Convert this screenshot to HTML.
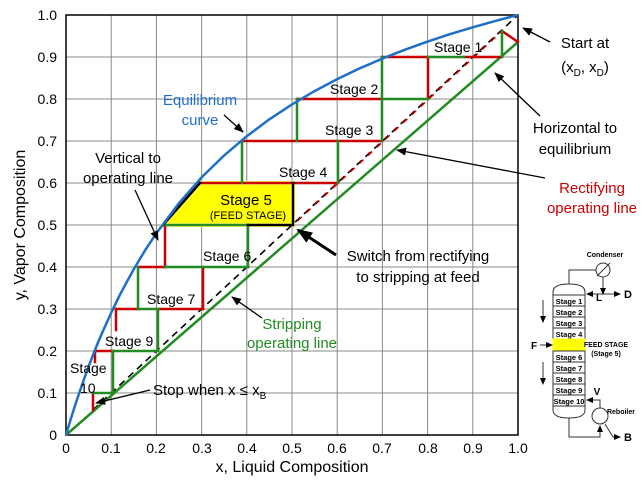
<!DOCTYPE html>
<html><head><meta charset="utf-8"><style>
body{margin:0;background:#fff}
svg{display:block;font-family:"Liberation Sans",Arial,sans-serif}
</style></head><body>
<svg width="643" height="480" viewBox="0 0 643 480">
<defs>
<marker id="ah" markerWidth="10" markerHeight="8" refX="9" refY="4" orient="auto" markerUnits="userSpaceOnUse"><path d="M0,0 L10,4 L0,8 Z" fill="#000"/></marker>
<marker id="ah2" markerWidth="16" markerHeight="12" refX="14" refY="6" orient="auto" markerUnits="userSpaceOnUse"><path d="M0,0 L16,6 L0,12 Z" fill="#000"/></marker>
<marker id="sm" markerWidth="7" markerHeight="6" refX="6" refY="3" orient="auto" markerUnits="userSpaceOnUse"><path d="M0,0 L7,3 L0,6 Z" fill="#000"/></marker>
</defs>
<g stroke="#888" stroke-width="1">
<line x1="111.2" y1="15" x2="111.2" y2="435"/><line x1="156.4" y1="15" x2="156.4" y2="435"/><line x1="201.6" y1="15" x2="201.6" y2="435"/><line x1="246.8" y1="15" x2="246.8" y2="435"/><line x1="292" y1="15" x2="292" y2="435"/><line x1="337.2" y1="15" x2="337.2" y2="435"/><line x1="382.4" y1="15" x2="382.4" y2="435"/><line x1="427.6" y1="15" x2="427.6" y2="435"/><line x1="472.8" y1="15" x2="472.8" y2="435"/>
<line x1="66" y1="393" x2="518" y2="393"/><line x1="66" y1="351" x2="518" y2="351"/><line x1="66" y1="309" x2="518" y2="309"/><line x1="66" y1="267" x2="518" y2="267"/><line x1="66" y1="225" x2="518" y2="225"/><line x1="66" y1="183" x2="518" y2="183"/><line x1="66" y1="141" x2="518" y2="141"/><line x1="66" y1="99" x2="518" y2="99"/><line x1="66" y1="57" x2="518" y2="57"/>
</g>
<rect x="66" y="15" width="452" height="420" fill="none" stroke="#000" stroke-width="1.5"/>
<g font-size="14" fill="#000" text-anchor="middle">
<text x="66" y="453">0</text><text x="111" y="453">0.1</text><text x="156" y="453">0.2</text><text x="202" y="453">0.3</text><text x="247" y="453">0.4</text><text x="292" y="453">0.5</text><text x="337" y="453">0.6</text><text x="382" y="453">0.7</text><text x="428" y="453">0.8</text><text x="473" y="453">0.9</text><text x="518" y="453">1.0</text>
</g>
<g font-size="14" fill="#000" text-anchor="end">
<text x="57" y="440">0</text><text x="57" y="398">0.1</text><text x="57" y="356">0.2</text><text x="57" y="314">0.3</text><text x="57" y="272">0.4</text><text x="57" y="230">0.5</text><text x="57" y="188">0.6</text><text x="57" y="146">0.7</text><text x="57" y="104">0.8</text><text x="57" y="62">0.9</text><text x="57" y="20">1.0</text>
</g>
<text x="292" y="472" font-size="16" text-anchor="middle">x, Liquid Composition</text>
<text transform="translate(25,225) rotate(-90)" font-size="16" text-anchor="middle">y, Vapor Composition</text>
<polygon points="163,225 200,183 293,183 293,225" fill="#ffff00" stroke="#ffff66" stroke-width="4"/>
<line x1="93" y1="410" x2="518" y2="15" stroke="#000" stroke-width="1.6" stroke-dasharray="7,5"/>
<line x1="293" y1="225" x2="502" y2="31" stroke="#c00" stroke-width="1.6" stroke-dasharray="6,6" stroke-dashoffset="6"/>
<line x1="66" y1="435" x2="518" y2="42" stroke="#228b22" stroke-width="2.5"/>
<g fill="none" stroke-width="2.5" stroke-linecap="square">
<g stroke="#c00">
<line x1="502" y1="31" x2="518" y2="42"/>
<line x1="382" y1="57" x2="428" y2="57"/><line x1="464" y1="57" x2="502" y2="57"/>
<line x1="428" y1="57" x2="428" y2="99"/>
<line x1="297" y1="99" x2="382" y2="99"/>
<line x1="242" y1="141" x2="382" y2="141"/>
<line x1="200" y1="183" x2="338" y2="183"/>
<line x1="165" y1="225" x2="165" y2="267"/>
<line x1="138" y1="267" x2="165" y2="267"/>
<line x1="203" y1="267" x2="203" y2="309"/>
<line x1="116" y1="309" x2="138" y2="309"/><line x1="158" y1="309" x2="203" y2="309"/>
<line x1="116" y1="309" x2="116" y2="330"/>
<line x1="95" y1="351" x2="113" y2="351"/>
<line x1="95" y1="351" x2="95" y2="362"/>
<line x1="93" y1="393" x2="93" y2="410"/>
</g>
<g stroke="#228b22">
<line x1="502" y1="31" x2="502" y2="57"/>
<line x1="428" y1="57" x2="464" y2="57"/>
<line x1="382" y1="57" x2="382" y2="141"/>
<line x1="382" y1="99" x2="428" y2="99"/>
<line x1="297" y1="99" x2="297" y2="141"/>
<line x1="338" y1="141" x2="338" y2="183"/>
<line x1="242" y1="141" x2="242" y2="183"/>
<line x1="165" y1="225" x2="248" y2="225"/>
<line x1="248" y1="225" x2="248" y2="267"/>
<line x1="165" y1="267" x2="248" y2="267"/>
<line x1="138" y1="267" x2="138" y2="309"/>
<line x1="138" y1="309" x2="158" y2="309"/>
<line x1="158" y1="309" x2="158" y2="351"/>
<line x1="113" y1="351" x2="158" y2="351"/>
<line x1="113" y1="351" x2="113" y2="393"/>
<line x1="93" y1="393" x2="113" y2="393"/>
</g>
<g stroke="#000" stroke-width="2.5">
<line x1="163" y1="225" x2="200" y2="183"/>
<line x1="293" y1="183" x2="293" y2="225"/>
<line x1="248" y1="225" x2="293" y2="225"/>
</g>
</g>
<polyline points="66,435 68.3,427.3 70.5,419.9 72.8,412.6 75,405.5 79.6,391.9 84.1,378.9 88.6,366.5 93.1,354.8 97.6,343.5 102.2,332.8 111.2,312.7 120.2,294.2 133.8,269.1 145.1,250.3 156.4,233.2 179,203.1 201.6,177.4 224.2,155.4 246.8,136.2 269.4,119.3 292,104.4 314.6,91.1 337.2,79.1 359.8,68.3 382.4,58.6 405,49.7 427.6,41.6 450.2,34.1 472.8,27.3 495.4,20.9 518,15" fill="none" stroke="#1f6fc8" stroke-width="2.5" stroke-linejoin="round"/>
<g font-size="14" fill="#000">
<text x="434" y="52">Stage 1</text>
<text x="330" y="94">Stage 2</text>
<text x="325" y="135">Stage 3</text>
<text x="279" y="177">Stage 4</text>
<text x="246" y="205" text-anchor="middle" font-size="15">Stage 5</text>
<text x="248" y="219" text-anchor="middle" font-size="11">(FEED STAGE)</text>
<text x="203" y="261">Stage 6</text>
<text x="147" y="304">Stage 7</text>
<text x="105" y="346">Stage 9</text>
<text x="70" y="373">Stage</text>
<text x="80" y="393">10</text>
</g>
<g font-size="15" text-anchor="middle">
<text x="200" y="105" fill="#1f6fc8">Equilibrium</text>
<text x="200" y="125" fill="#1f6fc8">curve</text>
<text x="128" y="163">Vertical to</text>
<text x="128" y="183">operating line</text>
<text x="585" y="48">Start at</text>
<text x="585" y="72">(x<tspan font-size="10" dy="4">D</tspan><tspan dy="-4">, x</tspan><tspan font-size="10" dy="4">D</tspan><tspan dy="-4">)</tspan></text>
<text x="575" y="133">Horizontal to</text>
<text x="575" y="154">equilibrium</text>
<text x="592" y="193" fill="#c00">Rectifying</text>
<text x="592" y="213" fill="#c00">operating line</text>
<text x="418" y="261">Switch from rectifying</text>
<text x="418" y="282">to stripping at feed</text>
<text x="292" y="329" fill="#228b22">Stripping</text>
<text x="292" y="348" fill="#228b22">operating line</text>
<text x="153" y="395" text-anchor="start">Stop when x ≤ x<tspan font-size="10" dy="4">B</tspan></text>
</g>
<g stroke="#000" stroke-width="1.3" fill="none">
<line x1="550" y1="42" x2="523" y2="28" marker-end="url(#ah)"/>
<line x1="540" y1="116" x2="495" y2="73" marker-end="url(#ah)"/>
<line x1="545" y1="178" x2="397" y2="150" marker-end="url(#ah)"/>
<line x1="224" y1="115" x2="243" y2="132" marker-end="url(#ah)"/>
<line x1="135" y1="190" x2="158" y2="240" marker-end="url(#ah)"/>
<line x1="336" y1="255" x2="298" y2="230" stroke-width="3" marker-end="url(#ah2)"/>
<line x1="262" y1="318" x2="232" y2="297" marker-end="url(#ah)"/>
<line x1="150" y1="390" x2="96" y2="403" marker-end="url(#ah)"/>
</g>
<g stroke="#333" stroke-width="1" fill="#fff" font-size="7.5" font-weight="bold">
<path d="M553,292 Q553,284 569,284 Q585,284 585,292 L585,410 Q585,418 569,418 Q553,418 553,410 Z"/>
<rect x="553" y="295" width="32" height="11"/><rect x="553" y="306" width="32" height="11"/><rect x="553" y="317" width="32" height="11"/><rect x="553" y="328" width="32" height="11"/>
<rect x="553" y="339" width="32" height="12" fill="#ffff00" stroke="#ffff00"/>
<rect x="553" y="351" width="32" height="11"/><rect x="553" y="362" width="32" height="11"/><rect x="553" y="373" width="32" height="11"/><rect x="553" y="384" width="32" height="11"/><rect x="553" y="395" width="32" height="11"/>
<g fill="#000" stroke="none" text-anchor="middle">
<text x="569" y="304">Stage 1</text><text x="569" y="315">Stage 2</text><text x="569" y="326">Stage 3</text><text x="569" y="337">Stage 4</text><text x="569" y="360">Stage 6</text><text x="569" y="371">Stage 7</text><text x="569" y="382">Stage 8</text><text x="569" y="393">Stage 9</text><text x="569" y="404">Stage 10</text>
<text x="606" y="347" font-size="7">FEED STAGE</text><text x="606" y="356" font-size="7">(Stage 5)</text>
<text x="605" y="257" font-size="7">Condenser</text><text x="621" y="414" font-size="7">Reboiler</text>
<text x="599" y="301" font-size="10">L</text><text x="628" y="298" font-size="11">D</text><text x="597" y="395" font-size="10">V</text><text x="628" y="441" font-size="11">B</text><text x="534" y="349" font-size="10">F</text>
</g>
<path d="M569,284 L569,270 L596,270" fill="none"/>
<circle cx="603" cy="270" r="7"/><line x1="597" y1="276" x2="610" y2="263"/>
<path d="M603,277 L603,294" fill="none" marker-end="url(#sm)"/>
<path d="M587,294 L620,294" fill="none" marker-end="url(#sm)"/>
<path d="M598,294 L587,294" fill="none" marker-end="url(#sm)"/>
<line x1="540" y1="345" x2="552" y2="345" marker-end="url(#sm)"/>
<line x1="543" y1="300" x2="543" y2="322" marker-end="url(#sm)"/>
<line x1="543" y1="362" x2="543" y2="384" marker-end="url(#sm)"/>
<circle cx="600" cy="416" r="8"/>
<path d="M569,418 L569,437 L600,437 L600,426" fill="none" marker-end="url(#sm)"/>
<path d="M600,408 L600,400 L587,400" fill="none" marker-end="url(#sm)"/>
<path d="M605,424 L613,437 L620,437" fill="none" marker-end="url(#sm)"/>
</g>
</svg>
</body></html>
